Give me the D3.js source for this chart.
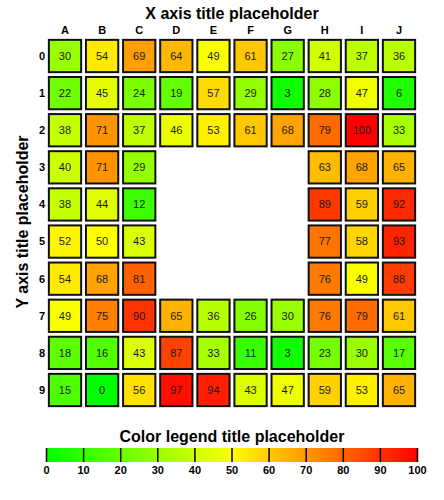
<!DOCTYPE html>
<html>
<head>
<meta charset="utf-8">
<script src="https://cdn.jsdelivr.net/npm/d3@7"></script>
<style>
  body { margin: 0; background: #fff; }
  text { font-family: "Liberation Sans", Arial, sans-serif; }
</style>
</head>
<body>
<div id="chart"></div>
<script>
const cols = ["A", "B", "C", "D", "E", "F", "G", "H", "I", "J"];
const rows = ["0", "1", "2", "3", "4", "5", "6", "7", "8", "9"];
// null = empty cell
const values = [
  [30, 54, 69, 64, 49, 61, 27, 41, 37, 36],
  [22, 45, 24, 19, 57, 29, 3, 28, 47, 6],
  [38, 71, 37, 46, 53, 61, 68, 79, 100, 33],
  [40, 71, 29, null, null, null, null, 63, 68, 65],
  [38, 44, 12, null, null, null, null, 89, 59, 92],
  [52, 50, 43, null, null, null, null, 77, 58, 93],
  [54, 68, 81, null, null, null, null, 76, 49, 88],
  [49, 75, 90, 65, 36, 26, 30, 76, 79, 61],
  [18, 16, 43, 87, 33, 11, 3, 23, 30, 17],
  [15, 0, 56, 97, 94, 43, 47, 59, 53, 65]
];
const legendTicks = [0, 10, 20, 30, 40, 50, 60, 70, 80, 90, 100];

const W = 444, H = 500;
const svg = d3.select("#chart").append("svg")
  .attr("width", W).attr("height", H);

const color = d3.scaleLinear()
  .domain([0, 50, 100])
  .range(["#00ff00", "#ffff00", "#ff0000"]);

// grid scales
const x = d3.scaleBand().domain(cols).range([47, 417]).paddingInner(0.13).paddingOuter(0.05);
const y = d3.scaleBand().domain(rows).range([38, 408]).paddingInner(0.13).paddingOuter(0.05);

const cells = [];
values.forEach((r, i) => r.forEach((v, j) => {
  if (v !== null) cells.push({ row: rows[i], col: cols[j], v: v });
}));

svg.append("g").selectAll("rect")
  .data(cells).enter().append("rect")
  .attr("x", d => x(d.col))
  .attr("y", d => y(d.row))
  .attr("width", x.bandwidth())
  .attr("height", y.bandwidth())
  .attr("fill", d => color(d.v))
  .attr("stroke", "#111")
  .attr("stroke-width", 2);

svg.append("g").selectAll("text")
  .data(cells).enter().append("text")
  .attr("x", d => x(d.col) + x.bandwidth() / 2)
  .attr("y", d => y(d.row) + y.bandwidth() / 2)
  .attr("dy", "0.35em")
  .attr("text-anchor", "middle")
  .attr("font-size", "11px")
  .attr("fill", "#1a1a1a")
  .text(d => d.v);

// column headers
svg.append("g").selectAll("text")
  .data(cols).enter().append("text")
  .attr("x", d => x(d) + x.bandwidth() / 2)
  .attr("y", 30)
  .attr("dy", "0.35em")
  .attr("text-anchor", "middle")
  .attr("font-size", "11px")
  .attr("font-weight", "bold")
  .text(d => d);

// row headers
svg.append("g").selectAll("text")
  .data(rows).enter().append("text")
  .attr("x", 42)
  .attr("y", d => y(d) + y.bandwidth() / 2)
  .attr("dy", "0.35em")
  .attr("text-anchor", "middle")
  .attr("font-size", "11px")
  .attr("font-weight", "bold")
  .text(d => d);

// titles
svg.append("text")
  .attr("x", 232).attr("y", 13).attr("dy", "0.35em")
  .attr("text-anchor", "middle")
  .attr("font-size", "16px").attr("font-weight", "bold")
  .text("X axis title placeholder");

svg.append("text")
  .attr("transform", "translate(22,222) rotate(-90)")
  .attr("dy", "0.35em")
  .attr("text-anchor", "middle")
  .attr("font-size", "16px").attr("font-weight", "bold")
  .text("Y axis title placeholder");

// legend
const lx = d3.scaleLinear().domain([0, 100]).range([46, 417]);
const defs = svg.append("defs");
const grad = defs.append("linearGradient").attr("id", "lg");
legendTicks.forEach(t => {
  grad.append("stop").attr("offset", t + "%").attr("stop-color", color(t));
});

svg.append("text")
  .attr("x", 232).attr("y", 436).attr("dy", "0.35em")
  .attr("text-anchor", "middle")
  .attr("font-size", "16px").attr("font-weight", "bold")
  .text("Color legend title placeholder");

svg.append("rect")
  .attr("x", lx(0)).attr("y", 448)
  .attr("width", lx(100) - lx(0)).attr("height", 14)
  .attr("fill", "url(#lg)");

const legAxis = d3.axisBottom(lx).tickValues(legendTicks).tickSize(14).tickPadding(4);
const ag = svg.append("g").attr("transform", "translate(0,448)").call(legAxis);
ag.select(".domain").remove();
ag.selectAll(".tick line").attr("stroke", "#000").attr("stroke-width", 1.5);
ag.selectAll(".tick text")
  .attr("font-size", "11px").attr("font-weight", "bold")
  .attr("font-family", "Liberation Sans, Arial, sans-serif")
  .attr("fill", "#000");
</script>
</body>
</html>
